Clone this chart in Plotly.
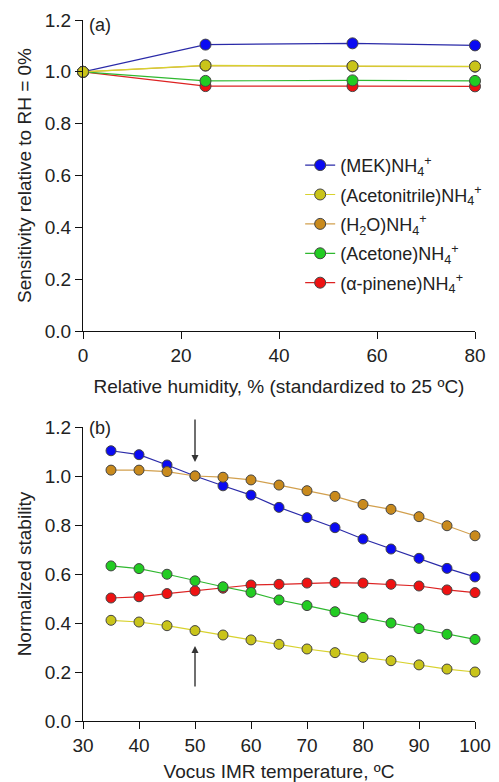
import plotly.graph_objects as go

# ---------------- data ----------------
rh = [0, 25, 55, 80]
rh_mek = [1.0, 1.105, 1.11, 1.102]
rh_acn = [1.0, 1.025, 1.022, 1.021]
rh_h2o = [1.0, 1.024, 1.021, 1.020]
rh_acetone = [1.0, 0.965, 0.967, 0.965]
rh_pinene = [1.0, 0.945, 0.945, 0.944]

temp = [35, 40, 45, 50, 55, 60, 65, 70, 75, 80, 85, 90, 95, 100]
t_mek = [1.103, 1.087, 1.045, 1.0, 0.96, 0.922, 0.872, 0.83, 0.789, 0.743, 0.702, 0.664, 0.623, 0.588]
t_h2o = [1.024, 1.024, 1.018, 1.0, 0.995, 0.984, 0.963, 0.94, 0.917, 0.884, 0.864, 0.834, 0.797, 0.756]
t_acetone = [0.633, 0.622, 0.599, 0.572, 0.548, 0.525, 0.494, 0.471, 0.446, 0.422, 0.40, 0.377, 0.354, 0.333]
t_pinene = [0.502, 0.507, 0.52, 0.531, 0.542, 0.555, 0.558, 0.563, 0.565, 0.563, 0.558, 0.551, 0.535, 0.524]
t_acn = [0.411, 0.404, 0.389, 0.369, 0.351, 0.331, 0.313, 0.294, 0.279, 0.26, 0.246, 0.229, 0.212, 0.2]

names = {
    "mek": "(MEK)NH<sub>4</sub><sup>+</sup>",
    "acn": "(Acetonitrile)NH<sub>4</sub><sup>+</sup>",
    "h2o": "(H<sub>2</sub>O)NH<sub>4</sub><sup>+</sup>",
    "acetone": "(Acetone)NH<sub>4</sub><sup>+</sup>",
    "pinene": "(α-pinene)NH<sub>4</sub><sup>+</sup>",
}
rank = {"mek": 1, "acn": 2, "h2o": 3, "acetone": 4, "pinene": 5}
mcol = {"mek": "#0a0af2", "acn": "#c9c41a", "h2o": "#c98a1c", "acetone": "#22cc22", "pinene": "#ee1212"}
lcol = {"mek": "#2a2aa8", "acn": "#d8d22e", "h2o": "#d2a04e", "acetone": "#2fb82f", "pinene": "#dd2222"}

panel_a = {"mek": rh_mek, "acn": rh_acn, "h2o": rh_h2o, "acetone": rh_acetone, "pinene": rh_pinene}
panel_b = {"mek": t_mek, "acn": t_acn, "h2o": t_h2o, "acetone": t_acetone, "pinene": t_pinene}

draw_order = ["pinene", "acetone", "mek", "h2o", "acn"]

FONT = "Liberation Sans, Arial, sans-serif"
TXT = "#222222"
FS = 19

fig = go.Figure()
for k in draw_order:
    fig.add_trace(go.Scatter(
        x=rh, y=panel_a[k], mode="lines+markers", name=names[k],
        legendrank=rank[k], legendgroup=k,
        line=dict(color=lcol[k], width=1.2),
        marker=dict(size=11, color=mcol[k], line=dict(color="#444444", width=1)),
        xaxis="x", yaxis="y", cliponaxis=False,
    ))
for k in draw_order:
    fig.add_trace(go.Scatter(
        x=temp, y=panel_b[k], mode="lines+markers", name=names[k],
        showlegend=False, legendgroup=k,
        line=dict(color=lcol[k], width=1.2),
        marker=dict(size=10, color=mcol[k], line=dict(color="#444444", width=1)),
        xaxis="x2", yaxis="y2", cliponaxis=False,
    ))

axis_common = dict(
    showline=True, linecolor="#111111", linewidth=1.3,
    ticks="outside", ticklen=7, tickcolor="#111111", tickwidth=1.2,
    showgrid=False, zeroline=False, automargin=False,
    tickfont=dict(family=FONT, size=FS, color=TXT),
)
title_font = dict(family=FONT, size=FS, color=TXT)

# the page body adds an 8 px margin, so the figure is 8 px smaller than the window
fig.update_layout(
    width=491, height=774,
    margin=dict(l=75, r=17, t=12, b=61),
    paper_bgcolor="white", plot_bgcolor="white",
    font=dict(family=FONT, size=FS, color=TXT),
    showlegend=True,
    legend=dict(
        x=0.554, y=0.819, xanchor="left", yanchor="top",
        bgcolor="rgba(0,0,0,0)", borderwidth=0,
        font=dict(family=FONT, size=18, color=TXT),
        tracegroupgap=3,
    ),
    xaxis=dict(axis_common, domain=[0, 1], range=[0, 80], tickvals=[0, 20, 40, 60, 80],
               anchor="y",
               title=dict(text="Relative humidity, % (standardized to 25 ºC)",
                          font=title_font, standoff=14)),
    yaxis=dict(axis_common, domain=[0.5563, 1], range=[0, 1.2],
               tickvals=[0, 0.2, 0.4, 0.6, 0.8, 1.0, 1.2], tickformat=".1f", anchor="x",
               title=dict(text="Sensitivity relative to RH = 0%",
                          font=title_font, standoff=7)),
    xaxis2=dict(axis_common, domain=[0, 1], range=[30, 100],
                tickvals=[30, 40, 50, 60, 70, 80, 90, 100], anchor="y2",
                title=dict(text="Vocus IMR temperature, ºC",
                           font=title_font, standoff=14)),
    yaxis2=dict(axis_common, domain=[0, 0.4194], range=[0, 1.2],
                tickvals=[0, 0.2, 0.4, 0.6, 0.8, 1.0, 1.2], tickformat=".1f", anchor="x2",
                title=dict(text="Normalized stability",
                           font=title_font, standoff=7)),
)

# panel labels
fig.add_annotation(text="(a)", xref="x domain", yref="y domain", x=0.01, y=0.985,
                   xanchor="left", yanchor="middle", showarrow=False,
                   font=dict(family=FONT, size=18, color=TXT))
fig.add_annotation(text="(b)", xref="x2 domain", yref="y2 domain", x=0.01, y=0.995,
                   xanchor="left", yanchor="middle", showarrow=False,
                   font=dict(family=FONT, size=18, color=TXT))

# arrows marking the reference temperature
ARROW_T = 50
fig.add_annotation(x=ARROW_T, y=1.057, ax=ARROW_T, ay=1.237, xref="x2", yref="y2",
                   axref="x2", ayref="y2", text="", showarrow=True,
                   arrowhead=2, arrowsize=1.0, arrowwidth=1.4, arrowcolor="#333333")
fig.add_annotation(x=ARROW_T, y=0.306, ax=ARROW_T, ay=0.135, xref="x2", yref="y2",
                   axref="x2", ayref="y2", text="", showarrow=True,
                   arrowhead=2, arrowsize=1.0, arrowwidth=1.4, arrowcolor="#333333")

fig.write_html("out.html")
